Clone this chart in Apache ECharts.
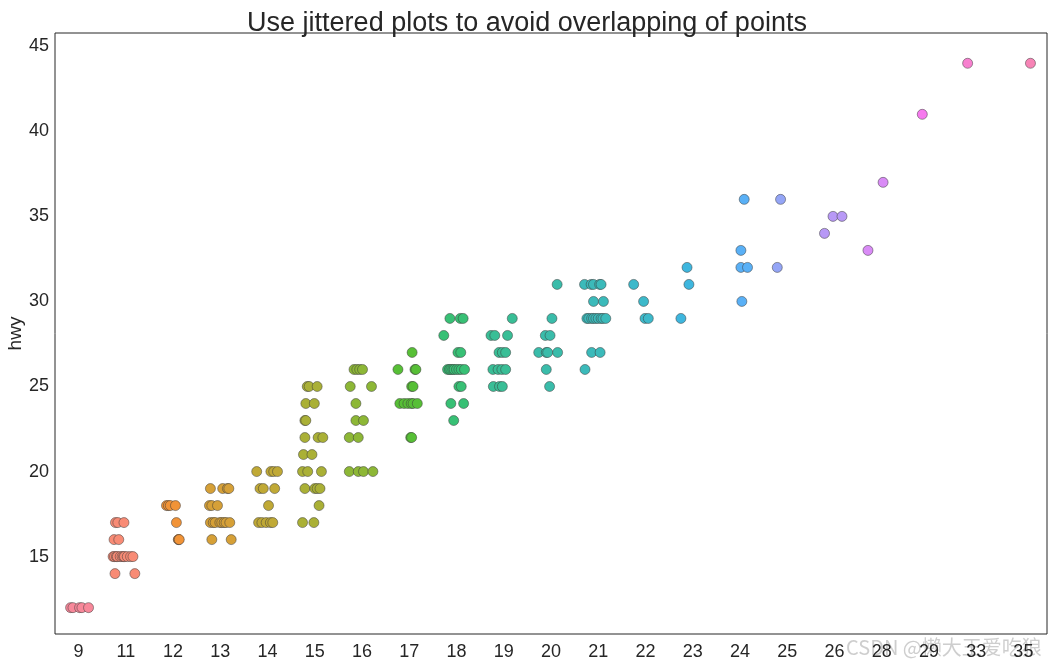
<!DOCTYPE html>
<html>
<head>
<meta charset="utf-8">
<script src="https://cdn.jsdelivr.net/npm/echarts@6/dist/echarts.min.js"></script>
<style>
html,body{margin:0;padding:0;background:#fff;}
#chart{width:1054px;height:662px;}
</style>
</head>
<body>
<div id="chart"></div>
<script>
// ---- data (cty categories, jittered strips of [jitter offset, hwy]) ----
const categories = ['9','11','12','13','14','15','16','17','18','19','20','21','22','23','24','25','26','28','29','33','35'];
const yTicks = [15, 20, 25, 30, 35, 40, 45];

const c9  = [[-0.17,12],[-0.12,12],[0.02,12],[0.07,12],[0.21,12]];
const c11 = [[-0.22,17],[-0.17,17],[-0.04,17],[-0.25,16],[-0.15,16],[-0.27,15],[-0.24,15],[-0.2,15],[-0.18,15],[-0.12,15],[-0.08,15],[-0.05,15],[-0.03,15],[0.03,15],[0.1,15],[0.15,15],[-0.23,14],[0.19,14]];
const c12 = [[-0.14,18],[-0.1,18],[-0.06,18],[0.05,18],[0.07,17],[0.11,16],[0.12,16],[0.13,16]];
const c13 = [[-0.21,19],[0.05,19],[0.15,19],[0.18,19],[-0.23,18],[-0.18,18],[-0.06,18],[-0.21,17],[-0.15,17],[-0.11,17],[-0.01,17],[0.03,17],[0.08,17],[0.12,17],[0.2,17],[-0.18,16],[0.23,16]];
const c14 = [[-0.23,20],[0.07,20],[0.13,20],[0.21,20],[-0.16,19],[-0.09,19],[0.15,19],[0.02,18],[-0.19,17],[-0.12,17],[-0.03,17],[0.06,17],[0.11,17]];
const c15 = [[-0.16,25],[-0.12,25],[0.05,25],[-0.19,24],[-0.01,24],[-0.21,23],[-0.19,23],[-0.21,22],[0.07,22],[0.17,22],[-0.24,21],[-0.06,21],[-0.26,20],[-0.15,20],[0.14,20],[-0.21,19],[0.0,19],[0.05,19],[0.11,19],[0.09,18],[-0.26,17],[-0.02,17]];
const c16 = [[-0.17,26],[-0.11,26],[-0.05,26],[0.01,26],[-0.25,25],[0.2,25],[-0.13,24],[-0.13,23],[0.03,23],[-0.27,22],[-0.08,22],[-0.27,20],[-0.08,20],[0.03,20],[0.23,20]];
const c17 = [[0.06,27],[-0.24,26],[0.12,26],[0.14,26],[0.05,25],[0.08,25],[-0.2,24],[-0.11,24],[-0.03,24],[0.04,24],[0.08,24],[0.17,24],[0.03,22],[0.05,22]];
const c18 = [[-0.14,29],[0.08,29],[0.14,29],[-0.27,28],[0.03,27],[0.09,27],[-0.19,26],[-0.15,26],[-0.12,26],[-0.08,26],[-0.05,26],[0.0,26],[0.05,26],[0.1,26],[0.17,26],[0.05,25],[0.1,25],[-0.12,24],[0.15,24],[-0.06,23]];
const c19 = [[0.18,29],[-0.27,28],[-0.19,28],[0.08,28],[-0.1,27],[-0.03,27],[0.04,27],[-0.23,26],[-0.12,26],[-0.04,26],[0.04,26],[-0.22,25],[-0.09,25],[-0.03,25]];
const c20 = [[0.13,31],[0.02,29],[-0.12,28],[-0.02,28],[-0.26,27],[-0.1,27],[-0.07,27],[0.14,27],[-0.1,26],[-0.03,25]];
const c21 = [[-0.29,31],[-0.15,31],[-0.1,31],[0.03,31],[0.06,31],[-0.1,30],[0.11,30],[-0.24,29],[-0.2,29],[-0.14,29],[-0.1,29],[-0.05,29],[0.0,29],[0.06,29],[0.1,29],[0.16,29],[-0.14,27],[0.04,27],[-0.28,26]];
const c22 = [[-0.25,31],[-0.04,30],[-0.01,29],[0.06,29]];
const c23 = [[-0.12,32],[-0.08,31],[-0.25,29]];
const c24 = [[0.09,36],[0.02,33],[0.02,32],[0.16,32],[0.04,30]];
const c25 = [[-0.14,36],[-0.21,32]];
const c26 = [[-0.03,35],[0.16,35],[-0.21,34]];
const c28 = [[0.03,37],[-0.29,33]];
const c29 = [[-0.14,41]];
const c33 = [[-0.18,44]];
const c35 = [[0.15,44]];

const strips = [c9,c11,c12,c13,c14,c15,c16,c17,c18,c19,c20,c21,c22,c23,c24,c25,c26,c28,c29,c33,c35];

// ---- seaborn husl palette (husl_palette(n, s=.9, l=.7)) ----
const M = [[3.2406,-1.5372,-0.4986],[-0.9689,1.8758,0.0415],[0.0557,-0.2040,1.0570]];
const refY = 1.0, refU = 0.19784, refV = 0.46834, labE = 0.008856, labK = 903.3;
function maxChroma(L, H) {
  const hr = H * Math.PI / 180, sinH = Math.sin(hr), cosH = Math.cos(hr);
  const sub1 = Math.pow(L + 16, 3) / 1560896.0;
  const sub2 = sub1 > labE ? sub1 : L / labK;
  let res = Infinity;
  for (const row of M) {
    const [m1, m2, m3] = row;
    const top = (0.99915 * m1 + 1.05122 * m2 + 1.14460 * m3) * sub2;
    const rb = 0.86330 * m3 - 0.17266 * m2;
    const lb = 0.12949 * m3 - 0.38848 * m1;
    const bottom = (rb * sinH + lb * cosH) * sub2;
    for (const t of [0, 1]) {
      const C = L * (top - 1.05122 * t) / (bottom + 0.17266 * sinH * t);
      if (C > 0 && C < res) res = C;
    }
  }
  return res;
}
function fInv(t) { return Math.pow(t, 3) > labE ? Math.pow(t, 3) : (116 * t - 16) / labK; }
function fromLinear(c) { return c <= 0.0031308 ? 12.92 * c : 1.055 * Math.pow(c, 1 / 2.4) - 0.055; }
function huslToRgb(H, S, L) {
  const C = maxChroma(L, H) / 100 * S;
  const hr = H * Math.PI / 180;
  const U = Math.cos(hr) * C, V = Math.sin(hr) * C;
  const varY = fInv((L + 16) / 116);
  const varU = U / (13 * L) + refU;
  const varV = V / (13 * L) + refV;
  const Y = varY * refY;
  const X = 0 - (9 * Y * varU) / ((varU - 4) * varV - varU * varV);
  const Z = (9 * Y - 15 * varV * Y - varV * X) / (3 * varV);
  return M.map(r => Math.min(1, Math.max(0, fromLinear(r[0] * X + r[1] * Y + r[2] * Z))));
}
function toHex(rgb) { return '#' + rgb.map(v => Math.round(v * 255).toString(16).padStart(2, '0')).join(''); }
const n = categories.length;
const palette = [];
for (let i = 0; i < n; i++) {
  const h = (i / n + 0.01) % 1;
  palette.push(toHex(huslToRgb(h * 359, 0.9 * 99, 0.7 * 99)));
}

const FONT = "'Liberation Sans', Arial, sans-serif";
const TXT = '#262626';

const chart = echarts.init(document.getElementById('chart'), null, {renderer: 'canvas'});
chart.setOption({
  backgroundColor: '#fff',
  animation: false,
  title: {
    text: 'Use jittered plots to avoid overlapping of points',
    left: 'center',
    top: 5,
    textStyle: {fontFamily: FONT, fontSize: 27, fontWeight: 'normal', color: TXT}
  },
  grid: {left: 55, right: 7, top: 33, bottom: 28, containLabel: false, outerBoundsMode: 'none',
         show: true, borderColor: TXT, borderWidth: 1, backgroundColor: 'transparent'},
  xAxis: [
    {
      type: 'category', data: categories, boundaryGap: true, position: 'bottom',
      axisLine: {show: false}, axisTick: {show: false}, splitLine: {show: false},
      axisLabel: {fontFamily: FONT, fontSize: 18, color: TXT, margin: 9, interval: 0}
    },
    {type: 'value', min: -0.5, max: 20.5, show: false}
  ],
  yAxis: {
    type: 'value', min: 10.45, max: 45.78,
    name: 'hwy', nameLocation: 'middle', nameGap: 30, nameMoveOverlap: false,
    nameTextStyle: {fontFamily: FONT, fontSize: 19, color: TXT},
    axisLine: {show: false}, axisTick: {show: false}, splitLine: {show: false},
    axisLabel: {fontFamily: FONT, fontSize: 18, color: TXT, margin: 6, customValues: yTicks}
  },
  series: strips.map((s, i) => ({
    type: 'scatter',
    xAxisIndex: 1,
    symbol: 'circle',
    symbolSize: 10,
    data: s.map(p => [i + p[0], p[1]]),
    itemStyle: {color: palette[i], borderColor: 'rgba(60,60,60,0.85)', borderWidth: 0.6, opacity: 1}
  })),
  graphic: [{
    type: 'text', left: 846, top: 637,
    style: {text: 'CSDN @懒大王爱吃狼', fontSize: 20, fontFamily: "'Noto Sans CJK SC', " + FONT, fill: 'rgba(190,190,190,0.75)'}
  }]
});
</script>
</body>
</html>
